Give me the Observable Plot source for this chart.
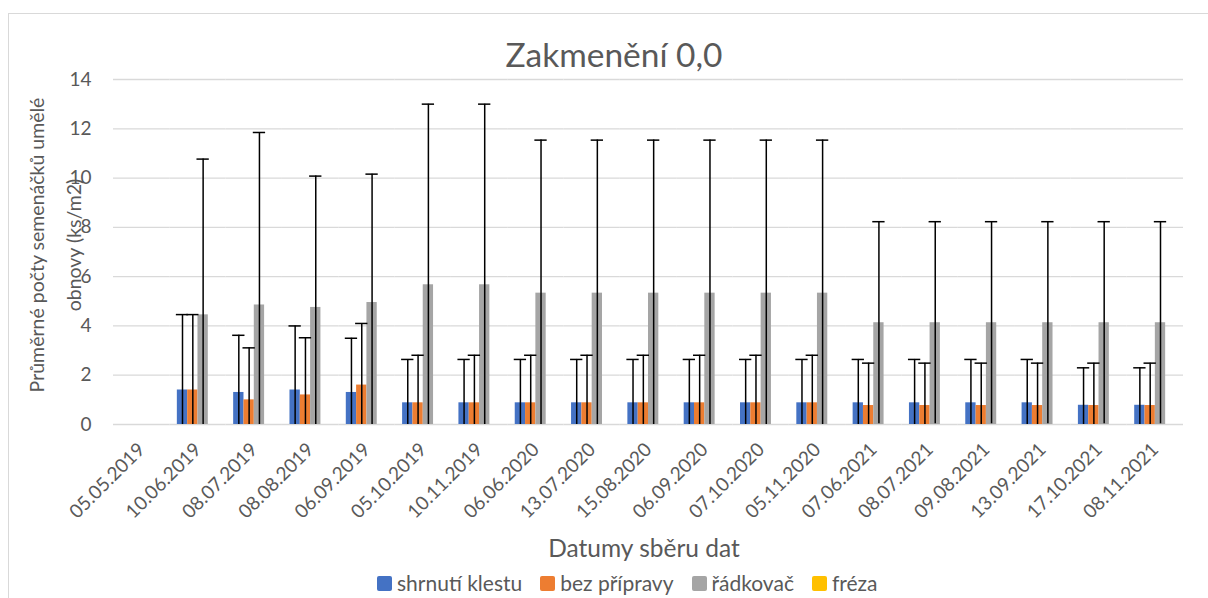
<!DOCTYPE html>
<html>
<head>
<meta charset="utf-8">
<script src="https://cdn.jsdelivr.net/npm/d3@7"></script>
<script src="https://cdn.jsdelivr.net/npm/@observablehq/plot@0.6"></script>
<style>
  body { margin: 0; background: #fff; }
  #wrap { position: relative; width: 1208px; height: 598px; overflow: hidden; background: #fff; font-family: Lato, "Open Sans", sans-serif; color: #595959; }
  #frame { position: absolute; left: 8px; top: 13px; width: 1210px; height: 600px; border-top: 1.5px solid #d9d9d9; border-left: 1.5px solid #d9d9d9; }
  #chart { position: absolute; left: 0; top: 0; }
  .title { position: absolute; left: 0; width: 1228px; top: 38px; text-align: center; font-size: 33.5px; line-height: 33px; white-space: nowrap; }
  .ytitle { position: absolute; width: 400px; height: 24px; line-height: 24px; text-align: center; font-size: 19.5px; transform: rotate(-90deg); white-space: nowrap; }
  .xtitle { position: absolute; left: 0; width: 1288px; top: 534px; text-align: center; font-size: 24.5px; line-height: 28px; white-space: nowrap; }
  .legend { position: absolute; left: 377px; top: 572px; display: flex; align-items: center; font-size: 21px; line-height: 22px; white-space: nowrap; }
  .legend .item { display: flex; align-items: center; margin-right: 18px; }
  .legend .sw { width: 15px; height: 15px; border-radius: 2px; margin-right: 5px; }
</style>
</head>
<body>
<div id="wrap">
  <div id="frame"></div>
  <div id="chart"></div>
  <div class="title">Zakmenění 0,0</div>
  <div class="ytitle" style="left:-163px; top:233px;">Průměrné počty semenáčků umělé</div>
  <div class="ytitle" style="left:-126px; top:233px;">obnovy (ks/m2)</div>
  <div class="xtitle">Datumy sběru dat</div>
  <div class="legend" id="legend"></div>
</div>
<script>
// ---- data ----
const dates = ["05.05.2019","10.06.2019","08.07.2019","08.08.2019","06.09.2019","05.10.2019","10.11.2019",
  "06.06.2020","13.07.2020","15.08.2020","06.09.2020","07.10.2020","05.11.2020",
  "07.06.2021","08.07.2021","09.08.2021","13.09.2021","17.10.2021","08.11.2021"];
const series = ["shrnutí klestu", "bez přípravy", "řádkovač", "fréza"];
const colors = ["#4472C4", "#ED7D31", "#A5A5A5", "#FFC000"];

const shrnutiKlestu = [0, 1.4, 1.3, 1.4, 1.3, 0.88, 0.88, 0.88, 0.88, 0.88, 0.88, 0.88, 0.88, 0.88, 0.88, 0.88, 0.88, 0.78, 0.78];
const bezPripravy   = [0, 1.4, 1.0, 1.2, 1.6, 0.88, 0.88, 0.88, 0.88, 0.88, 0.88, 0.88, 0.88, 0.77, 0.77, 0.77, 0.77, 0.77, 0.77];
const radkovac      = [0, 4.45, 4.85, 4.75, 4.95, 5.67, 5.67, 5.33, 5.33, 5.33, 5.33, 5.33, 5.33, 4.13, 4.13, 4.13, 4.13, 4.13, 4.13];
const freza         = [0, 0, 0, 0, 0, 0, 0, 0, 0, 0, 0, 0, 0, 0, 0, 0, 0, 0, 0];

// error bar half-widths (±)
const errShrnuti = [0, 3.06, 2.32, 2.6, 2.2, 1.76, 1.76, 1.76, 1.76, 1.76, 1.76, 1.76, 1.76, 1.76, 1.76, 1.76, 1.76, 1.52, 1.52];
const errBez     = [0, 3.06, 2.11, 2.32, 2.5, 1.93, 1.93, 1.93, 1.93, 1.93, 1.93, 1.93, 1.93, 1.72, 1.72, 1.72, 1.72, 1.72, 1.72];
const errRadkovac= [0, 6.32, 7.0, 5.33, 5.21, 7.33, 7.33, 6.21, 6.21, 6.21, 6.21, 6.21, 6.21, 4.1, 4.1, 4.1, 4.1, 4.1, 4.1];
const errFreza   = [0, 0, 0, 0, 0, 0, 0, 0, 0, 0, 0, 0, 0, 0, 0, 0, 0, 0, 0];

const yTicks = [0, 2, 4, 6, 8, 10, 12, 14];

const values = [shrnutiKlestu, bezPripravy, radkovac, freza];
const errors = [errShrnuti, errBez, errRadkovac, errFreza];

const rows = dates.flatMap((d, i) => series.map((s, j) => ({date: d, series: s, value: values[j][i], err: errors[j][i]})));
const errRows = rows.filter(r => r.err > 0);

const chart = Plot.plot({
  width: 1208,
  height: 598,
  marginTop: 79,
  marginBottom: 174,
  marginLeft: 113,
  marginRight: 25,
  style: {fontFamily: "Lato, 'Open Sans', sans-serif", color: "#595959", background: "transparent", overflow: "visible"},
  fx: {domain: dates, padding: 0, round: false, label: null},
  x: {domain: series, paddingInner: 0, paddingOuter: 0.73, round: false, axis: null},
  y: {domain: [0, 14], label: null},
  color: {domain: series, range: colors},
  marks: [
    Plot.ruleY(yTicks, {stroke: "#d9d9d9", strokeWidth: 1.3}),
    Plot.barY(rows, {fx: "date", x: "series", y: "value", fill: "series"}),
    Plot.ruleX(errRows, {fx: "date", x: "series", y1: d => Math.max(0, d.value - d.err), y2: d => d.value + d.err, stroke: "#000", strokeWidth: 1.5}),
    Plot.tickY(errRows, {fx: "date", x: "series", y: d => d.value + d.err, stroke: "#000", strokeWidth: 1.5, insetLeft: -1, insetRight: -1}),
    Plot.axisY({ticks: yTicks, tickSize: 0, tickPadding: 22, fontSize: 19, label: null, tickFormat: d => String(d)}),
    Plot.axisFx({anchor: "bottom", tickRotate: -45, tickSize: 0, tickPadding: 22, fontSize: 19, label: null})
  ]
});
document.getElementById("chart").appendChild(chart);

const legend = document.getElementById("legend");
series.forEach((s, i) => {
  const item = document.createElement("div");
  item.className = "item";
  const sw = document.createElement("div");
  sw.className = "sw";
  sw.style.background = colors[i];
  const t = document.createElement("span");
  t.textContent = s;
  item.appendChild(sw);
  item.appendChild(t);
  legend.appendChild(item);
});
</script>
</body>
</html>
